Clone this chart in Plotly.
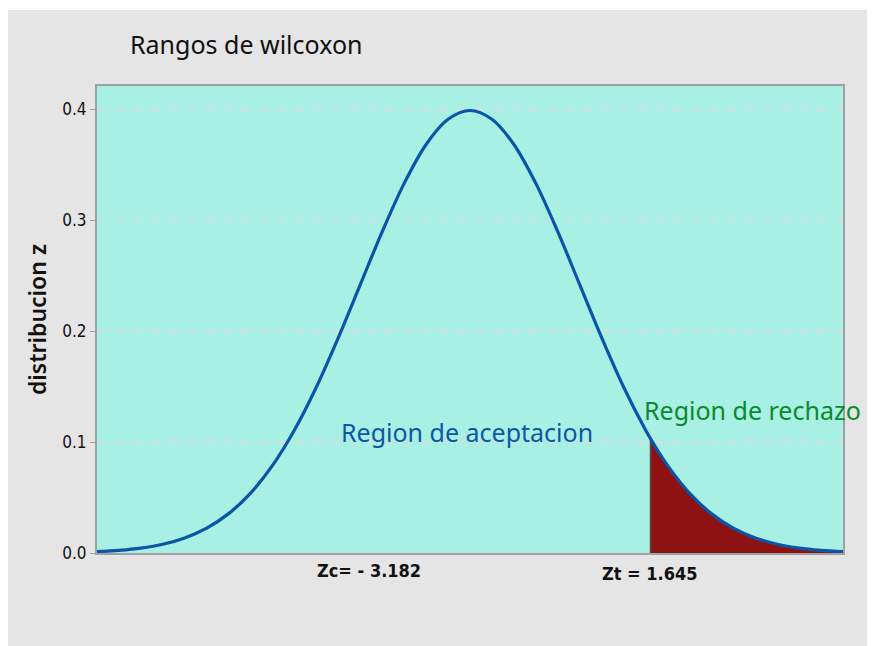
import plotly.graph_objects as go

# Data (standard normal curve)
z_values = [-3.4, -3.2, -3.0, -2.8, -2.6, -2.4, -2.2, -2.0, -1.8, -1.6, -1.4, -1.2, -1.0,
            -0.8, -0.6, -0.4, -0.2, 0.0, 0.2, 0.4, 0.6, 0.8, 1.0, 1.2, 1.4, 1.6, 1.645,
            1.8, 2.0, 2.2, 2.4, 2.6, 2.8, 3.0, 3.2, 3.4]
density = [0.0012, 0.0024, 0.0044, 0.0079, 0.0136, 0.0224, 0.0355, 0.0540, 0.0790, 0.1109,
           0.1497, 0.1942, 0.2420, 0.2897, 0.3332, 0.3683, 0.3910, 0.3989, 0.3910, 0.3683,
           0.3332, 0.2897, 0.2420, 0.1942, 0.1497, 0.1109, 0.1031, 0.0790, 0.0540, 0.0355,
           0.0224, 0.0136, 0.0079, 0.0044, 0.0024, 0.0012]
z_critical = 1.645
z_calc_label = "Zc= - 3.182"
z_crit_label = "Zt = 1.645"
y_ticks = [0.0, 0.1, 0.2, 0.3, 0.4]

tail_x = [x for x in z_values if x >= z_critical]
tail_y = [y for x, y in zip(z_values, density) if x >= z_critical]
crit_y = tail_y[0]

fig = go.Figure()

# rejection region fill
fig.add_trace(go.Scatter(x=tail_x, y=tail_y, mode="lines", fill="tozeroy",
                         fillcolor="#8e1212", line=dict(width=0, shape="spline"),
                         hoverinfo="skip", showlegend=False))
# vertical boundary line
fig.add_trace(go.Scatter(x=[z_critical, z_critical], y=[0, crit_y], mode="lines",
                         line=dict(color="#505050", width=1.5), showlegend=False))
# curve
fig.add_trace(go.Scatter(x=z_values, y=density, mode="lines",
                         line=dict(color="#0a55a8", width=3.2, shape="spline"),
                         showlegend=False))

# page offset of the figure (browser body margin)
OX, OY = 8, 8
W, H = 875 - OX, 646 - OY
L, T = 97 - OX, 86 - OY
R, B = 875 - 843, 646 - 553
pw, ph = W - L - R, H - T - B

def px(xp):
    return (xp - OX - L) / pw

def py(yp):
    return (H - B - (yp - OY)) / ph

cond = "DejaVu Sans Condensed, Liberation Sans Narrow, sans-serif"

fig.update_layout(
    width=W, height=H,
    margin=dict(l=L, r=R, t=T, b=B),
    paper_bgcolor="#e5e5e5",
    plot_bgcolor="#a8efe4",
    font=dict(family="Noto Sans, DejaVu Sans, sans-serif", color="#111111"),
    title=dict(text="Rangos de wilcoxon", x=(130 - OX) / W, xref="container", xanchor="left",
               y=1 - (45 - OY) / H, yref="container", yanchor="middle",
               font=dict(size=25, color="#111111", family="Noto Sans")),
    xaxis=dict(range=[z_values[0], z_values[-1]], showticklabels=False, ticks="",
               showgrid=False, zeroline=False, showline=True, linecolor="#a0a0a0",
               linewidth=2, mirror=True),
    yaxis=dict(range=[0, 0.421], tickvals=y_ticks, tickformat=".1f",
               ticks="outside", ticklen=5, tickcolor="#a0a0a0",
               tickfont=dict(size=17, family=cond, color="#111111"),
               showgrid=True, gridcolor="#d9dcdc", griddash="dash", gridwidth=1.5,
               zeroline=False, showline=True, linecolor="#a0a0a0", linewidth=2, mirror=True,
               title=dict(text="distribucion z", standoff=9,
                          font=dict(size=23, family="Noto Sans", color="#111111", weight=600))),
    shapes=[
        dict(type="rect", xref="paper", yref="paper",
             x0=-L / pw, x1=1 + R / pw, y0=py(10), y1=1 + T / ph,
             fillcolor="white", line=dict(width=0), layer="below"),
    ],
    annotations=[
        dict(text="Region de aceptacion", xref="paper", yref="paper",
             x=px(467), y=py(432), showarrow=False,
             xanchor="center", yanchor="middle",
             font=dict(size=25, color="#0e56a6", family="Noto Sans")),
        dict(text="Region de rechazo", xref="paper", yref="paper",
             x=px(752), y=py(410), showarrow=False,
             xanchor="center", yanchor="middle",
             font=dict(size=25, color="#0b8a2c", family="Noto Sans")),
        dict(text="<b>" + z_calc_label + "</b>", xref="paper", yref="paper",
             x=px(369), y=py(570), showarrow=False,
             xanchor="center", yanchor="middle",
             font=dict(size=18, color="#111111", family=cond)),
        dict(text="<b>" + z_crit_label + "</b>", xref="x", yref="paper",
             x=z_critical, y=py(573), showarrow=False,
             xanchor="center", yanchor="middle",
             font=dict(size=18, color="#111111", family=cond)),
    ],
)

fig.write_html("out.html")
